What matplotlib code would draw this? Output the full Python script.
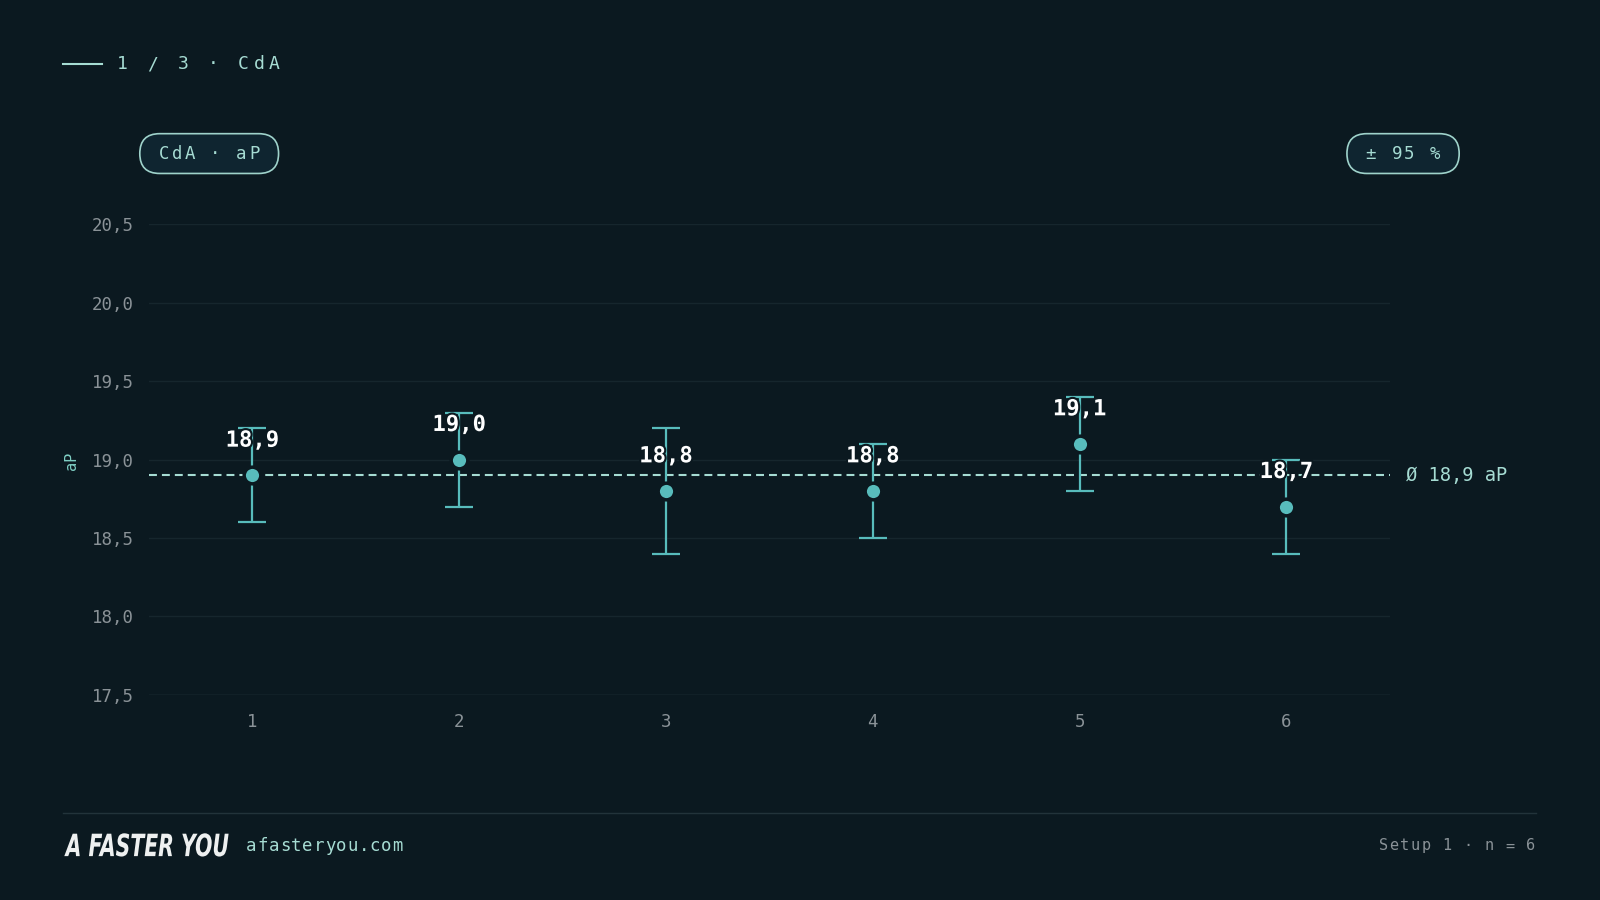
import matplotlib.pyplot as plt
from matplotlib.patches import FancyBboxPatch, PathPatch
from matplotlib.textpath import TextPath
from matplotlib.font_manager import FontProperties
from matplotlib.transforms import Affine2D
from matplotlib import patheffects as pe

# ── Data ────────────────────────────────────────────────────────────────────
runs = [1, 2, 3, 4, 5, 6]
cda = [18.9, 19.0, 18.8, 18.8, 19.1, 18.7]
ci_low = [18.6, 18.7, 18.4, 18.5, 18.8, 18.4]
ci_high = [19.2, 19.3, 19.2, 19.1, 19.4, 19.0]
mean_cda = 18.9
y_ticks = [17.5, 18.0, 18.5, 19.0, 19.5, 20.0, 20.5]

# ── Style ───────────────────────────────────────────────────────────────────
BG = '#0b1920'
TEAL = '#58bcbc'
MINT = '#a6dcd3'
GREY = '#8a9297'
GRID = '#16262d'
MONO = 'DejaVu Sans Mono'

W, H = 1568, 882   # layout units (figure is 16:9)


def comma(v):
    return f"{v:.1f}".replace('.', ',')


fig = plt.figure(figsize=(16, 9), dpi=100, facecolor=BG)

ax = fig.add_axes([146 / W, 1 - 681 / H, (1362 - 146) / W, (681 - 220) / H])
ax.set_facecolor(BG)
ax.set_xlim(0.5, 6.5)
ax.set_ylim(17.5, 20.5)
for s in ax.spines.values():
    s.set_visible(False)
ax.set_yticks(y_ticks)
ax.set_yticklabels([comma(v) for v in y_ticks])
ax.set_xticks(runs)
ax.set_xticklabels([str(r) for r in runs])
ax.tick_params(length=0, colors=GREY, labelsize=12.5)
ax.tick_params(axis='y', pad=11)
ax.tick_params(axis='x', pad=13)
for lab in ax.get_xticklabels() + ax.get_yticklabels():
    lab.set_fontfamily(MONO)
ax.grid(axis='y', color=GRID, lw=1)
ax.set_axisbelow(True)
ax.axhline(17.5, color='#26363c', lw=1, zorder=1)

# mean line
ax.axhline(mean_cda, color=MINT, lw=1.5, ls=(0, (3.8, 2.4)), zorder=2)
ax.annotate(f"Ø {comma(mean_cda)} aP", xy=(1, mean_cda),
            xycoords=('axes fraction', 'data'), xytext=(11.5, 0),
            textcoords='offset points', ha='left', va='center',
            color=MINT, fontsize=13.5, family=MONO, annotation_clip=False)

# error bars + points
yerr = [[m - lo for m, lo in zip(cda, ci_low)],
        [hi - m for m, hi in zip(cda, ci_high)]]
ax.errorbar(runs, cda, yerr=yerr, fmt='none', ecolor=TEAL, elinewidth=1.6,
            capsize=10, capthick=1.6, zorder=3)
ax.plot(runs, cda, 'o', ms=12, mfc=TEAL, mec=BG, mew=2.5, zorder=4)
for x, v in zip(runs, cda):
    ax.annotate(comma(v), (x, v), xytext=(0, 25), textcoords='offset points',
                ha='center', va='center', color='white', fontsize=16,
                fontweight='bold', family=MONO, zorder=5,
                path_effects=[pe.withStroke(linewidth=3, foreground=BG)])

# ── Overlay for header, pills, footer ──────────────────────────────────────
ov = fig.add_axes([0, 0, 1, 1])
ov.set_xlim(0, W)
ov.set_ylim(H, 0)
ov.axis('off')


def spaced(x, y, s, step, **kw):
    for i, ch in enumerate(s):
        ov.text(x + i * step, y, ch, ha='center', va='center', **kw)


# header
ov.plot([62, 100], [63, 63], color=MINT, lw=1.5)
spaced(120, 63, "1 / 3 · CdA", 14.85, color=MINT, fontsize=13, family=MONO)

# pills
for x0, x1, txt, step in [(137, 273, "CdA · aP", 12.6),
                          (1320, 1430, "± 95 %", 12.6)]:
    ov.add_patch(FancyBboxPatch((x0, 131), x1 - x0, 39,
                                boxstyle="round,pad=0,rounding_size=19.5",
                                fc='#0f2530', ec='#9fd3cb', lw=1.2))
    cx = (x0 + x1) / 2 - step * (len(txt) - 1) / 2
    spaced(cx, 151, txt, step, color=MINT, fontsize=12.5, family=MONO)

# y label
ov.text(70, 452, "aP", rotation=90, ha='center', va='center',
        color='#7fcfc4', fontsize=11, family=MONO)

# footer
ov.plot([62, 1505], [797, 797], color='#22333a', lw=1)

# condensed bold-italic wordmark: squeeze a text path to the logo box
logo = TextPath((0, 0), "A FASTER YOU", size=1,
                prop=FontProperties(family='DejaVu Sans', weight='bold',
                                    style='italic'))
ext = logo.get_extents()
sx = (224 - 63) / ext.width
sy = 22 / 0.73
logo_tr = Affine2D().translate(-ext.x0, 0).scale(sx, -sy).translate(63, 839)
ov.add_patch(PathPatch(logo_tr.transform_path(logo), fc='#eef0f0', lw=0))

spaced(246.5, 829, "afasteryou.com", 11.0, color=MINT, fontsize=12.5,
       family=MONO)
spaced(1356, 829, "Setup 1 · n = 6", 10.3, color=GREY, fontsize=11,
       family=MONO)

fig.savefig('out.png', dpi=100, facecolor=BG)
